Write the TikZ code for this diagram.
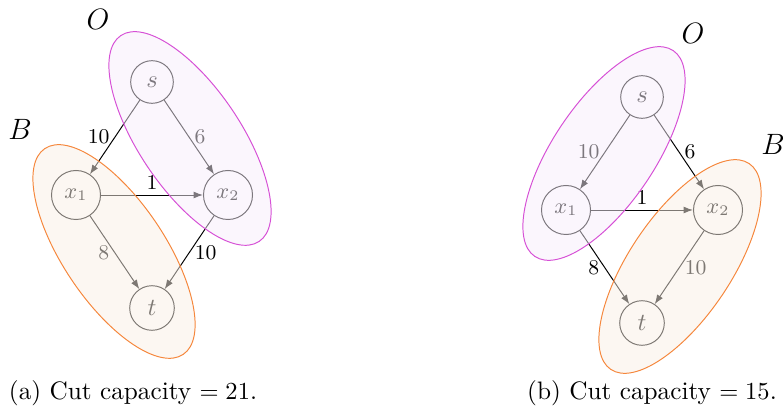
\documentclass[tikz,border=0pt]{standalone}
\usetikzlibrary{arrows.meta,calc}
\definecolor{oline}{RGB}{214,80,214}
\definecolor{ofill}{RGB}{248,238,251}
\definecolor{bline}{RGB}{245,135,60}
\definecolor{bfill}{RGB}{250,240,230}
\tikzset{
  vert/.style={circle, draw, inner sep=0pt},
  svert/.style={vert, minimum size=17.4pt},
  tvert/.style={vert, minimum size=18.2pt},
  xvert/.style={vert, minimum size=20pt, font=\small},
  edge/.style={-{Latex[length=3.8pt,width=2.8pt]}, line width=0.4pt},
  elab/.style={font=\fontsize{8.6}{10}\selectfont, inner sep=2pt},
  oreg/.style={draw=oline, fill=ofill, fill opacity=0.5, line width=0.4pt},
  breg/.style={draw=bline, fill=bfill, fill opacity=0.5, line width=0.4pt},
  setlab/.style={font=\large},
  capt/.style={font=\fontsize{10.3}{12}\selectfont},
}
\begin{document}
\begin{tikzpicture}[x=0.408pt, y=-0.408pt]
\useasboundingbox (0,0) rectangle (783,414);
% ---------- (a) ----------
\node[svert] (aS) at (152,82) {$s$};
\node[xvert] (aXa) at (76,195) {$x_1$};
\node[xvert] (aXb) at (228,195) {$x_2$};
\node[tvert] (aT) at (152,308) {$t$};
\draw[edge] (aS) -- node[elab, left] {10} (aXa);
\draw[edge] (aS) -- node[elab, right] {6} (aXb);
\draw[edge] (aXa) -- node[elab, above] {1} (aXb);
\draw[edge] (aXa) -- node[elab, left] {8} (aT);
\draw[edge] (aXb) -- node[elab, right] {10} (aT);
\coordinate (aOc) at ($(aS)!0.5!(aXb)$);
\coordinate (aBc) at ($(aXa)!0.5!(aT)$);
\draw[oreg, rotate around={-56.1:(aOc)}] (aOc) ellipse [x radius=50.6pt, y radius=20.8pt];
\draw[breg, rotate around={-56.1:(aBc)}] (aBc) ellipse [x radius=50.6pt, y radius=20.8pt];
\node[setlab] (aO) at (98,19) {$O$};
\node[setlab] (aB) at (20,129) {$B$};
\node[capt] (aCap) at (133,393) {(a) Cut capacity $= 21$.};
% ---------- (b) ----------
\begin{scope}[shift={(490,15)}]
\node[svert] (bS) at (152,82) {$s$};
\node[xvert] (bXa) at (76,195) {$x_1$};
\node[xvert] (bXb) at (228,195) {$x_2$};
\node[tvert] (bT) at (152,308) {$t$};
\draw[edge] (bS) -- node[elab, left] {10} (bXa);
\draw[edge] (bS) -- node[elab, right] {6} (bXb);
\draw[edge] (bXa) -- node[elab, above] {1} (bXb);
\draw[edge] (bXa) -- node[elab, left] {8} (bT);
\draw[edge] (bXb) -- node[elab, right] {10} (bT);
\coordinate (bOc) at ($(bS)!0.5!(bXa)$);
\coordinate (bBc) at ($(bXb)!0.5!(bT)$);
\draw[oreg, rotate around={56.1:(bOc)}] (bOc) ellipse [x radius=50.6pt, y radius=20.8pt];
\draw[breg, rotate around={56.1:(bBc)}] (bBc) ellipse [x radius=50.6pt, y radius=20.8pt];
\node[setlab] (bO) at (203,18) {$O$};
\node[setlab] (bB) at (283,129) {$B$};
\end{scope}
\node[capt] (bCap) at (652,393) {(b) Cut capacity $= 15$.};
\end{tikzpicture}
\end{document}
